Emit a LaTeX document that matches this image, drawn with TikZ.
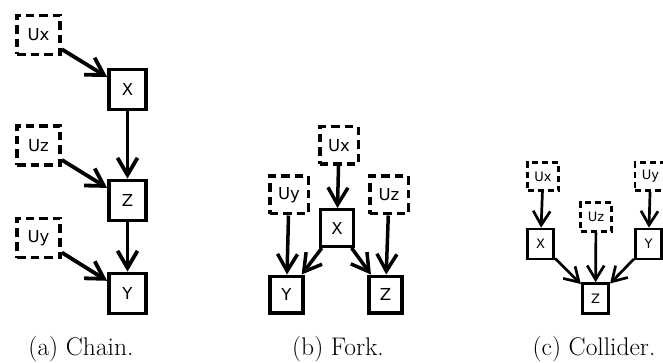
\documentclass[tikz,border=0pt]{standalone}
\usepackage{fontspec}
\newfontfamily\labelfont{DejaVu Sans}
\usetikzlibrary{arrows.meta}
\begin{document}
\begin{tikzpicture}[x=1pt,y=-1pt,
  box/.style={draw, rectangle, inner sep=0pt, font=\labelfont\fontsize{16.5}{19}\selectfont},
  ubox/.style={box, dash pattern=on 8.5pt off 5pt},
  ca/.style={line width=3.8pt},
  cb/.style={line width=3.5pt},
  cc/.style={line width=2.7pt},
  solidA/.style={box, ca, minimum width=37pt, minimum height=40pt},
  dashA/.style={ubox, ca, minimum width=43pt, minimum height=39pt},
  solidB/.style={box, cb, minimum width=33pt, minimum height=36.5pt},
  dashB/.style={ubox, cb, minimum width=38.5pt, minimum height=37.5pt},
  solidC/.style={box, cc, minimum width=26.5pt, minimum height=30pt, font=\labelfont\fontsize{13}{15}\selectfont},
  dashC/.style={box, cc, dash pattern=on 6pt off 4pt, minimum width=31pt, minimum height=28.5pt, font=\labelfont\fontsize{13}{15}\selectfont},
  arA/.style={ca, -{Straight Barb[length=17pt,width=20pt]}},
  arB/.style={cb, -{Straight Barb[length=17pt,width=20pt]}},
  arC/.style={cc, -{Straight Barb[length=14pt,width=17pt]}},
  captext/.style={font=\fontsize{25.5}{30}\selectfont, anchor=base}
]
\useasboundingbox (0,0) rectangle (663,363);
% (a) Chain
\node[dashA] (aUx) at (38.5,35) {Ux};
\node[solidA] (aX) at (127.5,89.5) {X};
\node[dashA] (aUz) at (38.5,145.5) {Uz};
\node[solidA] (aZ) at (127.5,200.5) {Z};
\node[dashA] (aUy) at (38.5,238) {Uy};
\node[solidA] (aY) at (127.5,293.5) {Y};
\draw[arA] (aUx) -- (aX);
\draw[arA] (aX) -- (aZ);
\draw[arA] (aUz) -- (aZ);
\draw[arA] (aZ) -- (aY);
\draw[arA] (aUy) -- (aY);
\node[captext] (capa) at (81,355) {(a) Chain.};
% (b) Fork
\node[dashB] (bUx) at (339,145.5) {Ux};
\node[dashB] (bUy) at (289,195) {Uy};
\node[dashB] (bUz) at (389,195) {Uz};
\node[solidB] (bX) at (337,228) {X};
\node[solidB] (bY) at (286.5,294.5) {Y};
\node[solidB] (bZ) at (385.5,294.5) {Z};
\draw[arB] (bUx) -- (bX);
\draw[arB] (bUy) -- (bY);
\draw[arB] (bUz) -- (bZ);
\draw[arB] (bX) -- (bY);
\draw[arB] (bX) -- (bZ);
\node[captext] (capb) at (338,355) {(b) Fork.};
% (c) Collider
\node[dashC] (cUx) at (543,176.5) {Ux};
\node[dashC] (cUz) at (596,217) {Uz};
\node[dashC] (cUy) at (650.5,176.5) {Uy};
\node[solidC] (cX) at (540.5,244) {X};
\node[solidC] (cY) at (648.5,244) {Y};
\node[solidC] (cZ) at (595.5,298.5) {Z};
\draw[arC] (cUx) -- (cX);
\draw[arC] (cUy) -- (cY);
\draw[arC] (cUz) -- (cZ);
\draw[arC] (cX) -- (cZ);
\draw[arC] (cY) -- (cZ);
\node[captext] (capc) at (594,355) {(c) Collider.};
\end{tikzpicture}
\end{document}
